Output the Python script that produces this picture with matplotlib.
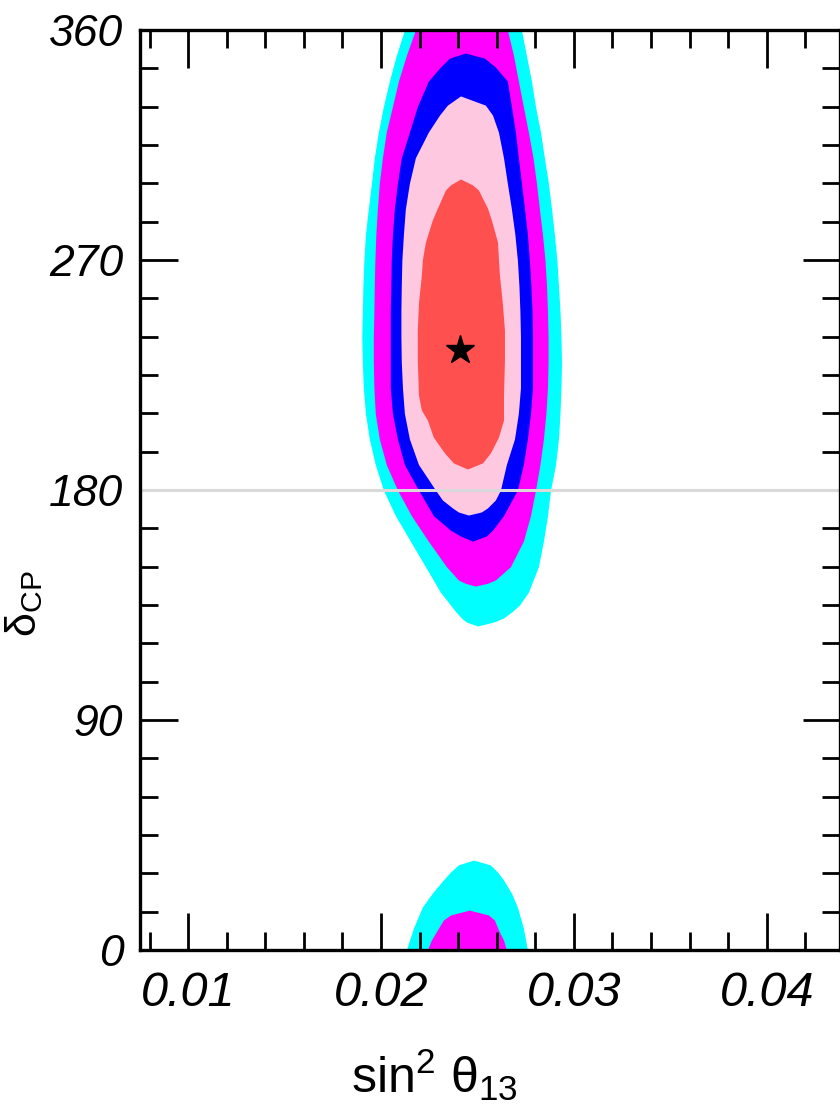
import matplotlib
matplotlib.use("Agg")
import matplotlib.pyplot as plt
from matplotlib.ticker import MultipleLocator

plt.rcParams['font.family'] = ['Liberation Sans', 'DejaVu Sans']
plt.rcParams['mathtext.fontset'] = 'custom'
plt.rcParams['mathtext.rm'] = 'Liberation Sans'
plt.rcParams['mathtext.it'] = 'Liberation Sans:italic'

# allowed regions:
# delta_CP rows with left/right edges in sin^2 theta13 (units of 1e-3)
cyan_d = [360, 350, 340, 330, 320, 310, 300, 290, 280, 270, 260, 250, 240, 230,
          220, 210, 200, 190, 180, 170, 160, 150, 140, 135, 132.5, 129.9, 128.3, 126.8]
cyan_l = [21.21, 20.79, 20.43, 20.12, 19.86, 19.65, 19.50, 19.34, 19.19, 19.11, 19.06,
          19.03, 19.00, 19.03, 19.08, 19.19, 19.39, 19.70, 20.12, 20.74, 21.52, 22.30,
          23.08, 23.60, 23.86, 24.17, 24.43, 25.00]
cyan_r = [27.28, 27.54, 27.80, 28.01, 28.27, 28.47, 28.68, 28.84, 28.99, 29.12, 29.20,
          29.28, 29.33, 29.36, 29.33, 29.28, 29.20, 29.05, 28.79, 28.63, 28.42, 28.16,
          27.64, 27.18, 26.81, 26.35, 25.83, 25.00]

mag_d = [360, 350, 340, 330, 320, 310, 300, 290, 280, 270, 260, 250, 240, 230,
         220, 210, 200, 190, 180, 170, 160, 150, 144.8, 143.5, 142.4]
mag_l = [21.78, 21.31, 20.90, 20.59, 20.27, 20.07, 19.91, 19.81, 19.73, 19.68, 19.65,
         19.63, 19.60, 19.60, 19.63, 19.70, 19.91, 20.27, 20.85, 21.57, 22.45, 23.39,
         24.01, 24.37, 24.89]
mag_r = [26.55, 26.87, 27.12, 27.38, 27.64, 27.88, 28.06, 28.21, 28.37, 28.50, 28.58,
         28.63, 28.66, 28.66, 28.63, 28.55, 28.42, 28.24, 28.01, 27.75, 27.38, 26.71,
         25.93, 25.52, 24.89]

blue_d = [351.0, 349.0, 345.5, 340, 330, 320, 310, 300, 290, 280, 270, 260, 250, 240,
          230, 220, 210, 200, 190, 180, 170, 164.3, 162.0, 160.0]
blue_l = [24.37, 23.55, 23.08, 22.45, 21.88, 21.47, 21.05, 20.85, 20.69, 20.59, 20.53,
          20.51, 20.48, 20.48, 20.48, 20.48, 20.59, 20.85, 21.21, 21.94, 22.71, 23.60,
          24.12, 24.74]
blue_r = [24.37, 25.36, 25.93, 26.55, 26.76, 26.97, 27.12, 27.28, 27.44, 27.59, 27.69,
          27.77, 27.83, 27.85, 27.85, 27.85, 27.75, 27.59, 27.38, 27.07, 26.35, 25.78,
          25.46, 24.74]

pink_d = [334.2, 330.6, 326.7, 320, 310, 300, 290, 280, 270, 260, 250, 240, 230, 220,
          210, 200, 190, 180, 176.1, 173.0, 171.4, 170.2]
pink_l = [24.12, 23.44, 23.03, 22.45, 21.78, 21.47, 21.26, 21.16, 21.08, 21.05, 21.03,
          21.03, 21.05, 21.11, 21.21, 21.47, 21.94, 22.82, 23.18, 23.70, 24.01, 24.53]
pink_r = [24.12, 25.41, 25.78, 26.09, 26.35, 26.55, 26.76, 26.94, 27.07, 27.15, 27.20,
          27.23, 27.23, 27.23, 27.12, 26.92, 26.50, 26.19, 25.93, 25.52, 25.20, 24.53]

red_d = [301.7, 299.4, 297.4, 290.3, 285.7, 277.0, 270, 264.1, 253.2, 242.6, 230.9,
         217.2, 211.3, 207.4, 200.7, 194.5, 190.6, 188.2]
red_l = [24.12, 23.60, 23.34, 22.92, 22.66, 22.30, 22.14, 22.09, 21.94, 21.88, 21.88,
         21.94, 22.09, 22.40, 22.71, 23.29, 23.75, 24.48]
red_r = [24.12, 24.74, 25.05, 25.52, 25.72, 26.04, 26.09, 26.14, 26.29, 26.40, 26.40,
         26.35, 26.35, 26.35, 26.09, 25.67, 25.26, 24.48]

# wrapped-around pieces near delta_CP = 0
cyan2_d = [35.2, 33.3, 30.5, 27.4, 22.3, 16.8, 8.6, 0]
cyan2_l = [24.79, 24.01, 23.60, 23.23, 22.66, 22.14, 21.68, 21.31]
cyan2_r = [24.79, 25.67, 26.04, 26.35, 26.76, 27.07, 27.38, 27.59]

mag2_d = [15.6, 13.7, 11.7, 7.8, 3.9, 0]
mag2_l = [24.58, 23.60, 23.23, 22.92, 22.61, 22.40]
mag2_r = [24.58, 25.57, 25.88, 26.09, 26.35, 26.50]

best_s13 = 24.12
best_dcp = 234.8

fig = plt.figure(figsize=(8.4, 11.15), dpi=100)
ax = fig.add_axes([140 / 840, 165 / 1115, 700 / 840, 920 / 1115])

regions = [
    (cyan_d, cyan_l, cyan_r, '#00ffff'),
    (cyan2_d, cyan2_l, cyan2_r, '#00ffff'),
    (mag_d, mag_l, mag_r, '#ff00ff'),
    (mag2_d, mag2_l, mag2_r, '#ff00ff'),
    (blue_d, blue_l, blue_r, '#0000ff'),
    (pink_d, pink_l, pink_r, '#ffc8e1'),
    (red_d, red_l, red_r, '#ff5050'),
]
for d, l, r, c in regions:
    ax.fill_betweenx(d, [v * 1e-3 for v in l], [v * 1e-3 for v in r],
                     color=c, linewidth=0, zorder=1)

ax.axhline(180, color='#d9d9d9', linewidth=2.2, zorder=2)
ax.plot(best_s13 * 1e-3, best_dcp, marker='*', color='black',
        markersize=21, zorder=3)

ax.set_xlim(0.0075, 0.0438)
ax.set_ylim(0, 360)

ax.xaxis.set_minor_locator(MultipleLocator(0.002))
ax.yaxis.set_minor_locator(MultipleLocator(15))
ax.set_xticks([0.01, 0.02, 0.03, 0.04])
ax.set_xticklabels(['0.01', '0.02', '0.03', '0.04'])
ax.set_yticks([0, 90, 180, 270, 360])
ax.set_yticklabels(['0', '90', '180', '270', '360'])

ax.tick_params(which='both', direction='in', top=True, right=True, width=2.0)
ax.tick_params(which='major', length=27)
ax.tick_params(which='minor', length=13)
ax.tick_params(axis='x', which='major', pad=15, labelsize=35)
ax.tick_params(axis='y', which='major', pad=12, labelsize=32)
for lab in ax.get_xticklabels() + ax.get_yticklabels():
    lab.set_fontstyle('italic')
for s in ax.spines.values():
    s.set_linewidth(2.4)
    s.set_zorder(5)

ax.set_xlabel(r'$\mathregular{sin^2\ \theta_{13}}$', fontsize=36)
ax.xaxis.set_label_coords(0.42, -0.105)
ax.set_ylabel(r'$\mathregular{\delta_{CP}}$', fontsize=31)
ax.yaxis.set_label_coords(-0.135, 0.376)

fig.savefig('out.png', dpi=100)
